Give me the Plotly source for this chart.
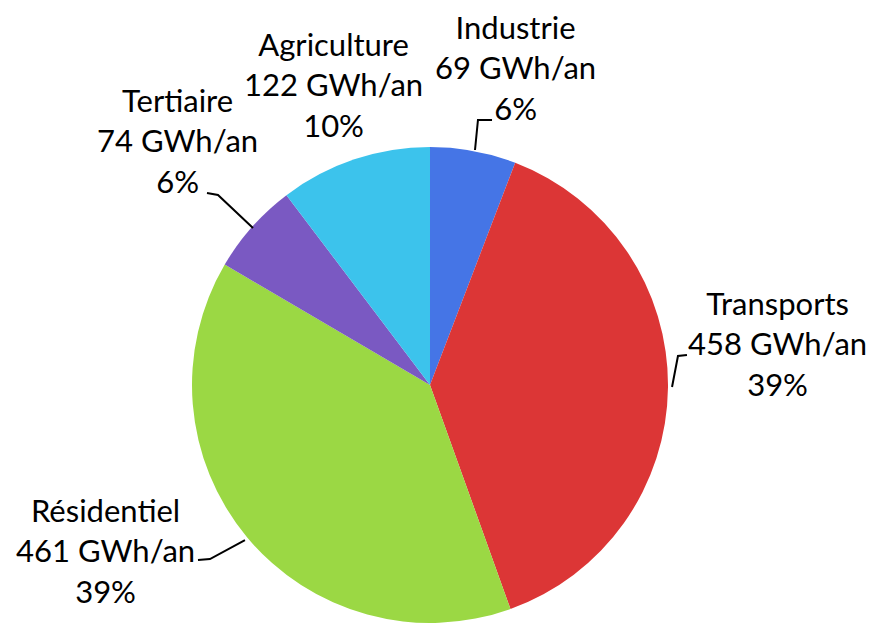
import plotly.graph_objects as go

W, H = 873, 623

# data
sectors = ["Industrie", "Transports", "Résidentiel", "Tertiaire", "Agriculture"]
gwh = [69, 458, 461, 74, 122]
colors = ["#4575e6", "#dc3636", "#9bd844", "#7a59c2", "#3cc3ec"]

total = sum(gwh)
pct = [round(v * 100 / total) for v in gwh]


def px(x, y):
    return x / W, 1 - y / H


fig = go.Figure()
fig.add_trace(
    go.Pie(
        labels=sectors,
        values=gwh,
        sort=False,
        direction="clockwise",
        rotation=0,
        marker=dict(colors=colors, line=dict(width=0)),
        textinfo="none",
        hoverinfo="label+value+percent",
        showlegend=False,
        domain=dict(x=[(430 - 238) / W, (430 + 238) / W], y=[0, 476 / H]),
    )
)

# label placement (pixel centres) and leader lines
label_pos = {
    "Industrie": (515, 68),
    "Agriculture": (333, 84),
    "Tertiaire": (177, 140),
    "Transports": (777, 343),
    "Résidentiel": (105, 550),
}
leaders = {
    "Industrie": [(492, 120), (478, 120), (475, 150)],
    "Tertiaire": [(207, 193), (218, 195), (253, 228)],
    "Transports": [(687, 355), (678, 356), (672, 387)],
    "Résidentiel": [(198, 560), (210, 559), (245, 540)],
}

for name, v, p in zip(sectors, gwh, pct):
    x, y = px(*label_pos[name])
    fig.add_annotation(
        x=x, y=y, xref="paper", yref="paper",
        text=f"{name}<br>{v} GWh/an<br>{p}%",
        showarrow=False,
        align="center",
        font=dict(family="Lato", size=31, color="black"),
        xanchor="center", yanchor="middle",
    )
    if name in leaders:
        pts = [px(a, b) for a, b in leaders[name]]
        path = "M " + " L ".join(f"{a:.4f},{b:.4f}" for a, b in pts)
        fig.add_shape(type="path", path=path, xref="paper", yref="paper",
                      line=dict(color="black", width=2))

fig.update_layout(
    width=W, height=H,
    margin=dict(l=0, r=0, t=0, b=0),
    paper_bgcolor="white",
    plot_bgcolor="white",
)

fig.write_html("out.html", config={"displayModeBar": False},
               post_script="document.body.style.margin='0';")
